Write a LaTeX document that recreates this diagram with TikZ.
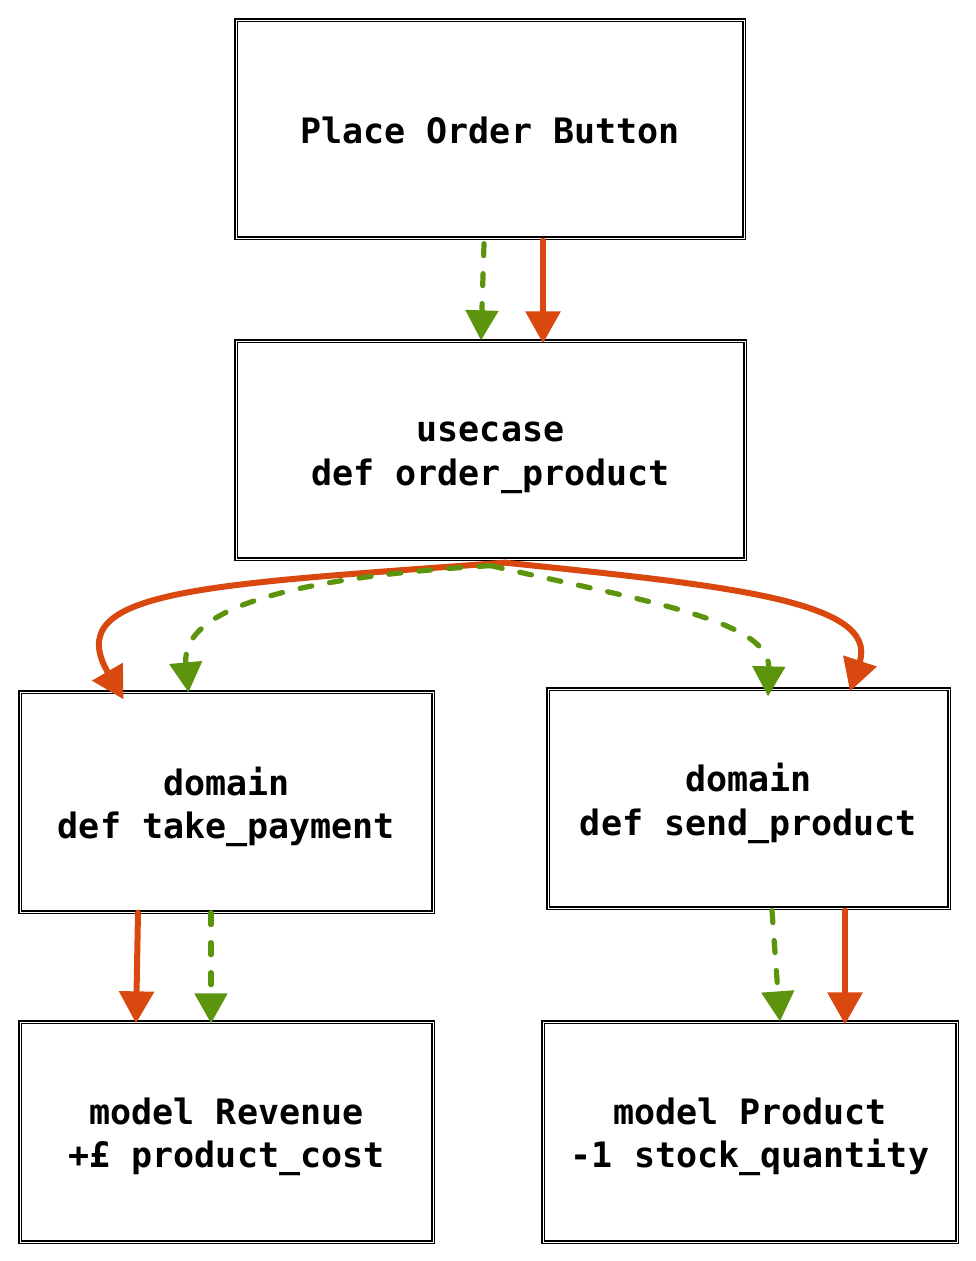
\documentclass[tikz,border=0pt]{standalone}
\usepackage{fontspec}
\setmonofont{DejaVu Sans Mono}
\usetikzlibrary{arrows.meta,calc}
\definecolor{redA}{HTML}{D9480F}
\definecolor{greenA}{HTML}{5C940D}
\tikzset{
  box/.style={draw=black,line width=1.3pt,rectangle,inner sep=0pt,
    double distance=0.7pt, double=white},
  txt/.style={align=center,inner sep=0pt,font=\ttfamily\bfseries\fontsize{35}{43.5}\selectfont},
  redarrow/.style={draw=redA,line width=6pt,line cap=round,
    -{Triangle[length=32pt,width=34pt]}},
  greenarrow/.style={draw=greenA,line width=5.2pt,line cap=round,dash pattern=on 12pt off 18pt,
    -{Triangle[length=30pt,width=32pt]}},
}
\begin{document}
\begin{tikzpicture}[x=1pt,y=-1pt]
\useasboundingbox[fill=white] (0,0) rectangle (976,1261);
\node[box,minimum width=508pt,minimum height=218pt] (b1) at (490,129) {};
\node[box,minimum width=509pt,minimum height=218pt] (b2) at (490.5,450) {};
\node[box,minimum width=413pt,minimum height=220pt] (b3) at (226.5,802) {};
\node[box,minimum width=401pt,minimum height=219pt] (b4) at (748.5,798.5) {};
\node[box,minimum width=413pt,minimum height=220pt] (b5) at (226.5,1132) {};
\node[box,minimum width=414pt,minimum height=220pt] (b6) at (750,1132) {};
\node[txt] (t1) at ([yshift=-1pt]b1.center) {Place Order Button};
\node[txt] (t2) at ([yshift=-8pt]b2.center) {usecase\\def order\_product};
\node[txt] (t3) at ([yshift=-5pt]b3.center) {domain\\def take\_payment};
\node[txt] (t4) at ([yshift=-5pt]b4.center) {domain\\def send\_product};
\node[txt] (t5) at ([yshift=-5pt]b5.center) {model Revenue\\+£ product\_cost};
\node[txt] (t6) at ([yshift=-5pt]b6.center) {model Product\\-1 stock\_quantity};
% top
\draw[greenarrow] ([xshift=-6pt,yshift=-5pt]b1.south) -- ([xshift=-9.5pt]b2.north);
\draw[redarrow] ([xshift=53pt,yshift=-2pt]b1.south) -- ([xshift=52.5pt,yshift=-3pt]b2.north);
% middle
\draw[redarrow] ([xshift=14.5pt,yshift=-3pt]b2.south) .. controls (200,585) and (60,590) .. ([xshift=-103pt,yshift=-8pt]b3.north);
\draw[greenarrow] ([yshift=-6pt]b2.south) .. controls (330,575) and (180,600) .. ([xshift=-38pt,yshift=-1pt]b3.north);
\draw[greenarrow] ([yshift=-6pt]b2.south) .. controls (640,600) and (770,620) .. ([xshift=19.5pt,yshift=-8pt]b4.north);
\draw[redarrow] ([xshift=14.5pt,yshift=-3pt]b2.south) .. controls (720,585) and (880,600) .. ([xshift=101.5pt,yshift=-3pt]b4.north);
% bottom left
\draw[redarrow] ([xshift=-88.5pt]b3.south) -- ([xshift=-90.5pt,yshift=-2pt]b5.north);
\draw[greenarrow] ([xshift=-15.5pt]b3.south) -- ([xshift=-15.5pt,yshift=-2pt]b5.north);
% bottom right
\draw[greenarrow] ([xshift=23.5pt,yshift=-2pt]b4.south) -- ([xshift=30pt]b6.north);
\draw[redarrow] ([xshift=96.5pt,yshift=-2pt]b4.south) -- ([xshift=95pt,yshift=-3pt]b6.north);
\end{tikzpicture}
\end{document}
